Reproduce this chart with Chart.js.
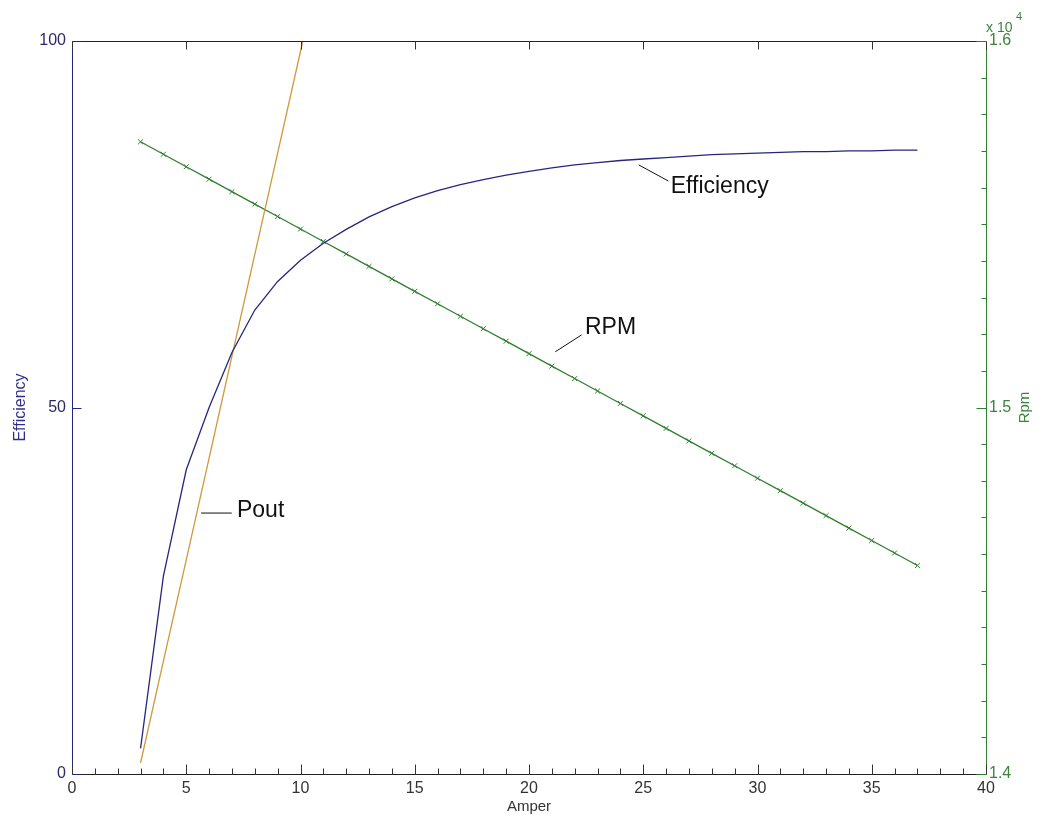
<!DOCTYPE html>
<html>
<head>
<meta charset="utf-8">
<title>Efficiency / Rpm / Pout vs Amper</title>
<script src="https://cdn.jsdelivr.net/npm/chart.js@4.4.1/dist/chart.umd.min.js"></script>
<style>
	html, body { margin: 0; padding: 0; background: #fff; }
	#wrapper-motor-chart { position: relative; width: 1042px; height: 820px; }
</style>
</head>
<body>
<div id="wrapper-motor-chart"><canvas id="motor-chart"></canvas></div>
<script>
// Measured points, one per amp
const amper = [3, 4, 5, 6, 7, 8, 9, 10, 11, 12, 13, 14, 15, 16, 17, 18, 19, 20,
	21, 22, 23, 24, 25, 26, 27, 28, 29, 30, 31, 32, 33, 34, 35, 36, 37];
const efficiency = [3.5, 27.0, 41.5, 50.0, 57.5, 63.3, 67.2, 70.1, 72.4, 74.3, 76.0, 77.4,
	78.6, 79.6, 80.4, 81.1, 81.7, 82.2, 82.7, 83.1, 83.4, 83.7, 83.9, 84.1, 84.3, 84.5,
	84.6, 84.7, 84.8, 84.9, 84.9, 85.0, 85.0, 85.1, 85.1];
const rpm = [15725, 15691, 15657, 15623, 15589, 15555, 15521, 15487, 15453, 15419, 15385,
	15351, 15317, 15283, 15249, 15215, 15181, 15147, 15113, 15079, 15045, 15011, 14977,
	14943, 14909, 14875, 14841, 14807, 14773, 14739, 14705, 14671, 14637, 14603, 14569];
// Pout runs off the top of the plot after ~10 A
const amperPout = [3, 4, 5, 6, 7, 8, 9, 10, 11];
const pout = [1.5, 15.4, 29.2, 43.1, 57.0, 70.9, 84.7, 98.6, 112.5];

// Axis ticks
const xTicks = [0, 5, 10, 15, 20, 25, 30, 35, 40];
const effTicks = [0, 50, 100];
const rpmTicks = [14000, 15000, 16000];
const rpmTickLabels = ["1.4", "1.5", "1.6"];

const navy = "#26267f";
const green = "#2f7f2f";
const gold = "#cc9a3a";
const FONT = "'Liberation Sans', Arial, sans-serif";

function toPoints(xs, ys) {
	return xs.map((x, i) => ({ x: x, y: ys[i] }));
}

function line(ctx, x1, y1, x2, y2) {
	ctx.beginPath();
	ctx.moveTo(x1, y1);
	ctx.lineTo(x2, y2);
	ctx.stroke();
}

// Matlab-like box: inward ticks, coloured y axes, text labels
const matlabAxes = {
	id: "matlabAxes",
	afterDraw(chart) {
		const ctx = chart.ctx;
		const a = chart.chartArea;
		const sx = chart.scales.x, sy = chart.scales.y, sr = chart.scales.y2;
		const L = Math.round(a.left) + 0.5, R = Math.round(a.right) + 0.5;
		const T = Math.round(a.top) + 0.5, B = Math.round(a.bottom) + 0.5;

		ctx.save();
		ctx.lineWidth = 1;

		// frame
		ctx.strokeStyle = "#222";
		line(ctx, L, T, R, T);
		line(ctx, L, B, R, B);
		ctx.strokeStyle = navy;
		line(ctx, L, T, L, B);
		ctx.strokeStyle = green;
		line(ctx, R, T, R, B);

		// x ticks, minor every amp on the bottom
		ctx.strokeStyle = "#333";
		for (let v = 0; v <= 40; v++) {
			let px = Math.round(sx.getPixelForValue(v)) + 0.5;
			line(ctx, px, B, px, B - (v % 5 === 0 ? 10 : 6));
		}
		xTicks.forEach((v) => {
			let px = Math.round(sx.getPixelForValue(v)) + 0.5;
			line(ctx, px, T, px, T + 8);
		});

		// left ticks
		ctx.strokeStyle = navy;
		effTicks.forEach((v) => {
			let py = Math.round(sy.getPixelForValue(v)) + 0.5;
			line(ctx, L, py, L + 9, py);
		});

		// right ticks, minor every 100 rpm
		ctx.strokeStyle = green;
		for (let v = 14000; v <= 16000; v += 100) {
			let py = Math.round(sr.getPixelForValue(v)) + 0.5;
			line(ctx, R, py, R - (v % 1000 === 0 ? 10 : 5), py);
		}

		// tick labels
		ctx.font = "16px " + FONT;
		ctx.textBaseline = "middle";
		ctx.fillStyle = "#333";
		ctx.textAlign = "center";
		xTicks.forEach((v) => ctx.fillText(String(v), sx.getPixelForValue(v), a.bottom + 15));

		ctx.fillStyle = "#2a2a6a";
		ctx.textAlign = "right";
		effTicks.forEach((v) => ctx.fillText(String(v), a.left - 6, sy.getPixelForValue(v)));

		ctx.fillStyle = "#3a853a";
		ctx.textAlign = "left";
		rpmTicks.forEach((v, i) => ctx.fillText(rpmTickLabels[i], a.right + 3, sr.getPixelForValue(v)));

		// exponent
		ctx.font = "14px " + FONT;
		ctx.fillText("x 10", a.right, a.top - 13);
		ctx.font = "11px " + FONT;
		ctx.fillText("4", a.right + 30, a.top - 24);

		// axis titles
		ctx.font = "15px " + FONT;
		ctx.fillStyle = "#333";
		ctx.textAlign = "center";
		ctx.fillText("Amper", (a.left + a.right) / 2, a.bottom + 33);

		ctx.save();
		ctx.translate(21, (a.top + a.bottom) / 2);
		ctx.rotate(-Math.PI / 2);
		ctx.font = "16px " + FONT;
		ctx.fillStyle = "#30308c";
		ctx.fillText("Efficiency", 0, 0);
		ctx.restore();

		ctx.save();
		ctx.translate(1025, (a.top + a.bottom) / 2);
		ctx.rotate(-Math.PI / 2);
		ctx.font = "15px " + FONT;
		ctx.fillStyle = "#3a853a";
		ctx.fillText("Rpm", 0, 0);
		ctx.restore();

		// curve annotations, placed in data units of the left axis
		ctx.strokeStyle = "#111";
		ctx.fillStyle = "#111";
		ctx.font = "23px " + FONT;
		ctx.textAlign = "left";
		ctx.textBaseline = "alphabetic";
		const notes = [
			{ text: "Efficiency", from: [24.8, 83.1], to: [26.1, 80.9], at: [26.2, 79.3] },
			{ text: "RPM", from: [21.15, 57.6], to: [22.3, 59.9], at: [22.45, 60.0] },
			{ text: "Pout", from: [5.65, 35.6], to: [6.99, 35.6], at: [7.22, 35.1] },
		];
		notes.forEach((n) => {
			line(ctx, sx.getPixelForValue(n.from[0]), sy.getPixelForValue(n.from[1]),
				sx.getPixelForValue(n.to[0]), sy.getPixelForValue(n.to[1]));
			ctx.fillText(n.text, sx.getPixelForValue(n.at[0]), sy.getPixelForValue(n.at[1]));
		});

		ctx.restore();
	},
};

let ctx = document.getElementById("motor-chart").getContext("2d");

let motorChart = new Chart(ctx, {
	type: "line",
	data: {
		datasets: [
			{
				label: "Efficiency",
				data: toPoints(amper, efficiency),
				yAxisID: "y",
				borderColor: navy,
				borderWidth: 1.3,
				pointRadius: 0,
			},
			{
				label: "Pout",
				data: toPoints(amperPout, pout),
				yAxisID: "y",
				borderColor: gold,
				borderWidth: 1.3,
				pointRadius: 0,
			},
			{
				label: "RPM",
				data: toPoints(amper, rpm),
				yAxisID: "y2",
				borderColor: green,
				borderWidth: 1.3,
				pointStyle: "crossRot",
				pointRadius: 3.5,
				pointBorderColor: green,
				pointBorderWidth: 1,
			},
		],
	},
	options: {
		responsive: true,
		maintainAspectRatio: false,
		animation: false,
		layout: {
			padding: { left: 72, top: 41, right: 56, bottom: 46 },
		},
		scales: {
			x: { type: "linear", min: 0, max: 40, display: false },
			y: { type: "linear", position: "left", min: 0, max: 100, display: false },
			y2: { type: "linear", position: "right", min: 14000, max: 16000, display: false },
		},
		plugins: {
			legend: { display: false },
			tooltip: { enabled: false },
		},
	},
	plugins: [matlabAxes],
});
</script>
</body>
</html>
